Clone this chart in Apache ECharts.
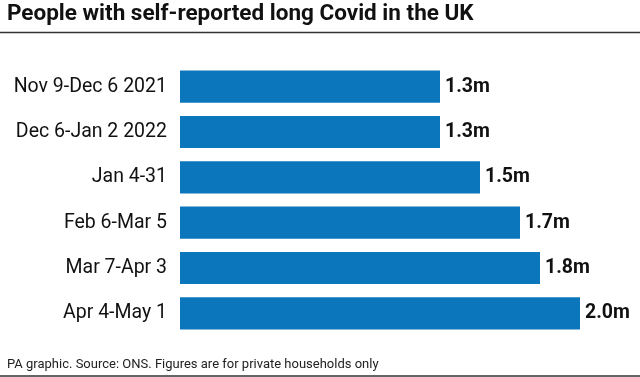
<!DOCTYPE html>
<html><head><meta charset="utf-8">
<script src="https://cdn.jsdelivr.net/npm/echarts@6/dist/echarts.min.js"></script>
<style>html,body{margin:0;padding:0;background:#fff}#c{width:640px;height:377px}</style>
</head><body><div id="c"></div>
<script>
const categories = ["Nov 9-Dec 6 2021","Dec 6-Jan 2 2022","Jan 4-31","Feb 6-Mar 5","Mar 7-Apr 3","Apr 4-May 1"];
const values = [1.3, 1.3, 1.5, 1.7, 1.8, 2.0];
const titleText = "People with self-reported long Covid in the UK";
const footerText = "PA graphic. Source: ONS. Figures are for private households only";

const chart = echarts.init(document.getElementById('c'));
chart.setOption({
  animation: false,
  backgroundColor: '#fff',
  title: [{
    text: titleText, left: 7, top: 3, padding: 0,
    textStyle: {fontFamily: 'Roboto', fontWeight: 'bold', fontSize: 22.5, color: '#111'}
  },{
    text: footerText, left: 7, top: 358, padding: 0,
    textStyle: {fontFamily: 'Roboto', fontWeight: 'normal', fontSize: 13, color: '#222'}
  }],
  graphic: [
    {type: 'line', shape: {x1: 0, y1: 32.5, x2: 640, y2: 32.5}, style: {stroke: '#333', lineWidth: 1.5}},
    {type: 'line', shape: {x1: 0, y1: 376, x2: 640, y2: 376}, style: {stroke: '#333', lineWidth: 1.5}}
  ],
  grid: {left: 180, top: 64, width: 400, height: 272, containLabel: false},
  xAxis: {type: 'value', min: 0, max: 2, show: false},
  yAxis: {
    type: 'category', data: categories, inverse: true,
    axisLine: {show: false}, axisTick: {show: false},
    axisLabel: {fontFamily: 'Roboto', fontSize: 19.5, color: '#111', margin: 13}
  },
  series: [{
    type: 'bar', data: values, barCategoryGap: '29%',
    itemStyle: {color: '#0b76bc'},
    label: {show: true, position: 'right', distance: 5, formatter: p => p.value.toFixed(1) + 'm',
      fontFamily: 'Roboto', fontWeight: 'bold', fontSize: 19.5, color: '#111'}
  }]
});
</script></body></html>
